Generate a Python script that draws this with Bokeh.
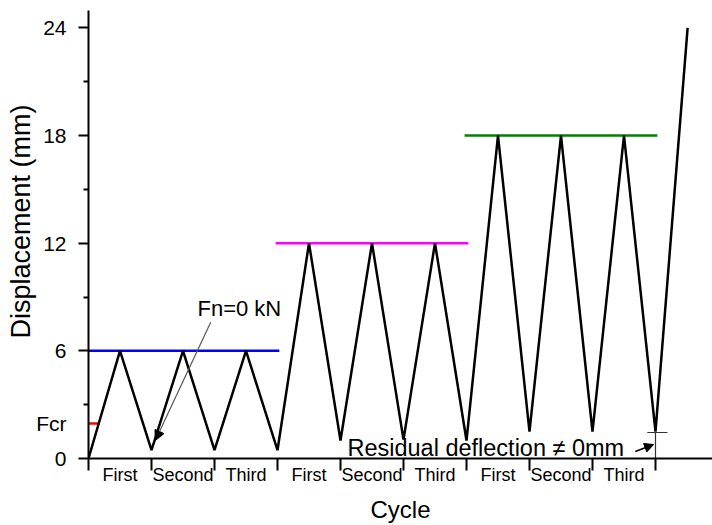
from bokeh.plotting import figure
from bokeh.models import (Range1d, FixedTicker, Label, Arrow, NormalHead, Title, LinearAxis,
                          CustomLabelingPolicy)
from bokeh.embed import file_html
from bokeh.resources import INLINE

# ---- data ----
cycle_x = [0, 0.5, 1, 1.5, 2, 2.5, 3, 3.5, 4, 4.5, 5, 5.5, 6, 6.5, 7, 7.5, 8, 8.5, 9, 9.51]
displacement = [0, 6, 0.46, 6, 0.46, 6, 0.46, 12, 1.0, 12, 1.05, 12, 1.0, 18, 1.5, 18, 1.5, 18, 1.5, 24]

level_values = [6, 12, 18]
level_start = [0.0, 2.97, 5.97]
level_end = [3.03, 6.03, 9.03]
level_colors = ["#0000ff", "#ff00ff", "#008000"]

cycle_names = ["First", "Second", "Third"] * 3
cycle_mid = [0.5, 1.5, 2.5, 3.5, 4.5, 5.5, 6.5, 7.5, 8.5]
cycle_bounds = [0, 1, 2, 3, 4, 5, 6, 7, 8, 9]

y_major = [0, 6, 12, 18, 24]
y_minor = [3, 9, 15, 21]
fcr_value = 1.95
fcr_label = "Fcr"
fcr_end = 0.17

residual_value = 1.45
residual_cycle = 9

FONT = "Liberation Sans"

p = figure(width=712, height=525, output_backend="svg", toolbar_location=None,
           x_range=Range1d(0, 9.905), y_range=Range1d(0, 24.97),
           min_border_left=88, min_border_right=0, min_border_top=10, min_border_bottom=65)
p.outline_line_color = None
p.xgrid.visible = False
p.ygrid.visible = False
p.background_fill_color = "white"
p.border_fill_color = "white"

# ---- y axis: line and ticks (labels suppressed) ----
ya = p.yaxis[0]
ya.ticker = FixedTicker(ticks=y_major, minor_ticks=y_minor)
ya.axis_line_width = 2
ya.major_tick_line_width = 2
ya.minor_tick_line_width = 2
ya.major_tick_out = 10
ya.major_tick_in = 0
ya.minor_tick_out = 5
ya.minor_tick_in = 0
ya.major_label_standoff = 0
ya.major_label_text_font = FONT
ya.major_label_text_font_size = "1px"
ya.major_label_policy = CustomLabelingPolicy(code="return []")

# ---- y axis: tick labels incl. Fcr ----
label_ticks = sorted(y_major + [fcr_value])
ya2 = LinearAxis(ticker=FixedTicker(ticks=label_ticks, minor_ticks=[]),
                 major_label_overrides={fcr_value: fcr_label},
                 axis_line_color=None, major_tick_line_color=None, minor_tick_line_color=None,
                 major_tick_out=0, major_tick_in=0, minor_tick_out=0, minor_tick_in=0,
                 major_label_standoff=8,
                 major_label_text_font=FONT, major_label_text_font_size="21px",
                 major_label_text_color="black")
p.add_layout(ya2, "left")

# ---- x axis ----
xa = p.xaxis[0]
xa.ticker = FixedTicker(ticks=cycle_mid, minor_ticks=cycle_bounds)
xa.major_label_overrides = {m: n for m, n in zip(cycle_mid, cycle_names)}
xa.axis_line_width = 2
xa.major_tick_out = 0
xa.major_tick_in = 0
xa.minor_tick_out = 12
xa.minor_tick_in = 0
xa.minor_tick_line_width = 2
xa.major_label_standoff = -6
xa.major_label_text_font = FONT
xa.major_label_text_font_size = "18px"
xa.major_label_text_color = "black"
xa.axis_label = "Cycle"
xa.axis_label_standoff = 8
xa.axis_label_text_font = FONT
xa.axis_label_text_font_size = "24px"
xa.axis_label_text_font_style = "normal"
xa.axis_label_text_color = "black"

p.add_layout(Title(text="Displacement (mm)", align="right", offset=94, standoff=-4,
                   text_font=FONT, text_font_size="27px", text_font_style="normal",
                   text_color="black"), "left")

# ---- level lines ----
for v, s, e, c in zip(level_values, level_start, level_end, level_colors):
    p.segment(x0=[s], y0=[v], x1=[e], y1=[v], line_color=c, line_width=2.5)

# Fcr marker
p.segment(x0=[0], y0=[fcr_value], x1=[fcr_end], y1=[fcr_value], line_color="#ff0000", line_width=2.5)

# ---- displacement history ----
p.line(cycle_x, displacement, line_color="black", line_width=2.5)

# residual deflection dimension marker
p.segment(x0=[residual_cycle], y0=[0], x1=[residual_cycle], y1=[residual_value],
          line_color="#333333", line_width=1.2)
p.segment(x0=[residual_cycle - 0.13], y0=[residual_value], x1=[residual_cycle + 0.19], y1=[residual_value],
          line_color="#333333", line_width=1.2)

# ---- annotations ----
p.add_layout(Label(x=1.73, y=8.35, text="Fn=0 kN",
                   text_align="left", text_baseline="middle",
                   text_font=FONT, text_font_size="22px", text_color="black"))
p.add_layout(Arrow(end=NormalHead(size=10, fill_color="black", line_color="black"),
                   x_start=1.94, y_start=7.6, x_end=1.06, y_end=1.0,
                   line_color="#555555", line_width=1.2))
p.add_layout(Label(x=4.11, y=0.6, text="Residual deflection \u2260 0mm",
                   text_align="left", text_baseline="middle",
                   text_font=FONT, text_font_size="23.5px", text_color="black"))
p.add_layout(Arrow(end=NormalHead(size=9, fill_color="black", line_color="black"),
                   x_start=8.68, y_start=0.39, x_end=8.97, y_end=0.78,
                   line_color="black", line_width=1.5))

open("out.html", "w").write(file_html(p, INLINE))
